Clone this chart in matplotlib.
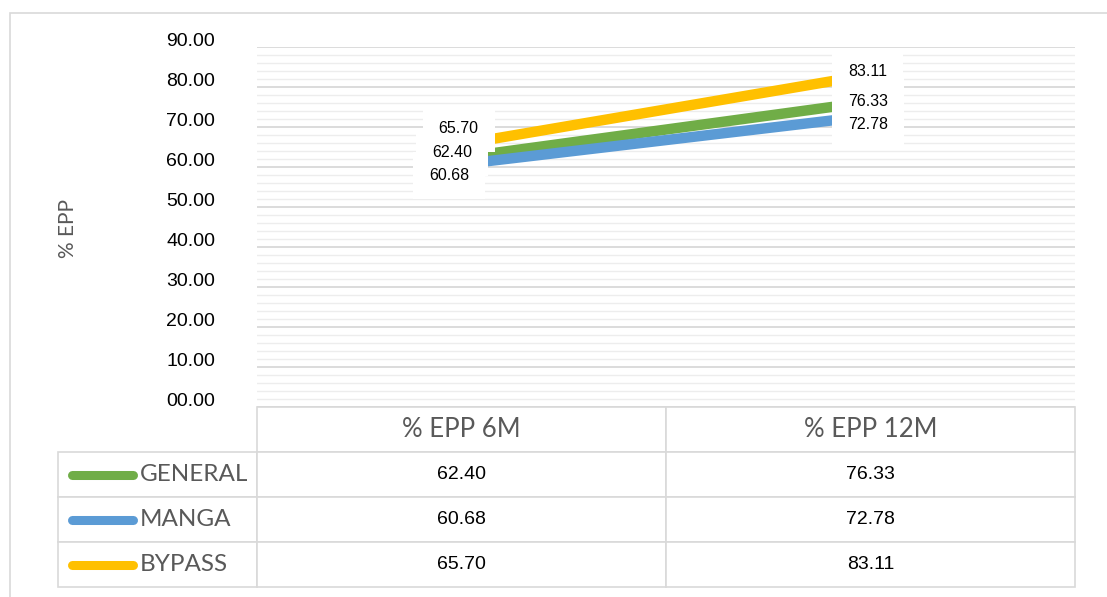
import numpy as np
import matplotlib
matplotlib.use("Agg")
import matplotlib.pyplot as plt
from matplotlib.ticker import MultipleLocator, FormatStrFormatter
from matplotlib.patches import Rectangle
from matplotlib.transforms import ScaledTranslation

# chart data
categories = ["% EPP 6M", "% EPP 12M"]
series_names = ["GENERAL", "MANGA", "BYPASS"]
general = [62.40, 76.33]
manga = [60.68, 72.78]
bypass = [65.70, 83.11]
colors = ["#70AD47", "#5B9BD5", "#FFC000"]
# label offsets (points) so the data labels don't sit on each other
label_offsets = [[(-7, 3.5), (-2, 0)],
                 [(-9, -8), (-1.5, -6.5)],
                 [(-2, 11.5), (-2, 2)]]

W, H = 1107, 597
fig = plt.figure(figsize=(W / 100, H / 100), dpi=100)
fig.patch.set_facecolor("white")

# light frame round the chart (cut off on the right and bottom)
fig.patches.append(Rectangle((10 / W, -0.05), 1.2, 1 - 13 / H + 0.05,
                             transform=fig.transFigure, fill=False,
                             edgecolor="#d9d9d9", linewidth=1.2))

# data table under the plot
tab_ax = fig.add_axes([58 / W, 1 - 587 / H, (1075 - 58) / W, (587 - 407) / H])
tab_ax.axis("off")
all_series = [general, manga, bypass]
cell_text = [[""] + ["%.2f" % v for v in vals] for vals in all_series]
first_w = (257 - 58) / (1075 - 58)
col_w = (1 - first_w) / 2
tbl = tab_ax.table(cellText=cell_text, colLabels=[""] + categories,
                   colWidths=[first_w, col_w, col_w], bbox=[0, 0, 1, 1],
                   cellLoc="center")
tbl.auto_set_font_size(False)
for (r, c), cell in tbl.get_celld().items():
    cell.set_edgecolor("#d9d9d9")
    cell.set_linewidth(1.2)
    t = cell.get_text()
    if r == 0:
        t.set_fontsize(18.5)
        t.set_family("Lato")
        t.set_color("#595959")
    else:
        t.set_fontsize(14)
        t.set_family("Liberation Sans")
        t.set_color("black")
tbl[0, 0].set_edgecolor("none")
tbl[0, 0].set_facecolor("none")

n_rows = len(series_names) + 1
for i, (name, col) in enumerate(zip(series_names, colors)):
    yc = 1 - (i + 1.5) / n_rows
    tab_ax.plot([14 / 1017, 75 / 1017], [yc, yc], color=col, linewidth=6.5,
                solid_capstyle="round", transform=tab_ax.transAxes, clip_on=False)
    tab_ax.text(82 / 1017, yc, name, ha="left", va="center", fontsize=17.5,
                family="Lato", color="#595959", transform=tab_ax.transAxes)

ax = fig.add_axes([257 / W, 1 - 407 / H, (1075 - 257) / W, (407 - 47) / H])
ax.set_zorder(2)
ax.patch.set_alpha(0)
x = np.arange(len(categories))

for vals, col in zip(all_series, colors):
    ax.plot(x, vals, color=col, linewidth=7.5, solid_capstyle="butt", zorder=3)

# white label boxes first, then the numbers on top of all boxes
for vals, offs in zip(all_series, label_offsets):
    for xi, v, off in zip(x, vals, offs):
        ax.annotate("%.2f" % v, (xi, v), xytext=off, textcoords="offset points",
                    ha="center", va="center", fontsize=11.5,
                    family="Liberation Sans", color="white", zorder=4,
                    bbox=dict(boxstyle="square,pad=1.0", fc="white", ec="none"))
for vals, offs in zip(all_series, label_offsets):
    for xi, v, off in zip(x, vals, offs):
        ax.annotate("%.2f" % v, (xi, v), xytext=off, textcoords="offset points",
                    ha="center", va="center", fontsize=11.5,
                    family="Liberation Sans", color="black", zorder=5)

ax.set_xlim(-0.5, 1.5)
ax.set_ylim(0, 90)
ax.yaxis.set_major_locator(MultipleLocator(10))
ax.yaxis.set_minor_locator(MultipleLocator(2))
ax.yaxis.set_major_formatter(FormatStrFormatter("%05.2f"))
ax.grid(which="major", axis="y", color="#d9d9d9", linewidth=1.3)
ax.grid(which="minor", axis="y", color="#ededed", linewidth=1.0)
ax.set_axisbelow(True)
ax.set_xticks([])
ax.tick_params(axis="y", which="both", length=0, pad=30, labelsize=14)
shift = ScaledTranslation(0, 7 / 100, fig.dpi_scale_trans)
for tick in ax.yaxis.get_major_ticks():
    tick.label1.set_family("Liberation Sans")
    tick.label1.set_transform(tick.label1.get_transform() + shift)
for s in ax.spines.values():
    s.set_visible(False)

fig.text(68 / W, 1 - 228 / H, "% EPP", rotation=90, ha="center", va="center",
         fontsize=15, family="Lato", color="#595959")

fig.savefig("out.png", dpi=100)
